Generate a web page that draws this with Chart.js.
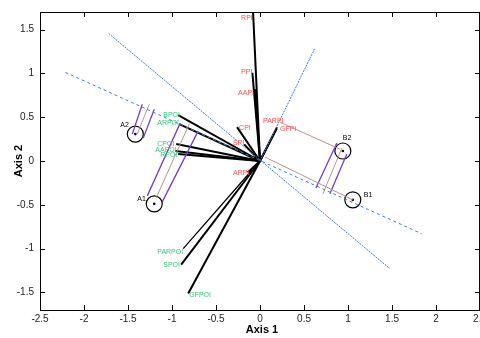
<!DOCTYPE html>
<html><head><meta charset="utf-8">
<script src="https://cdn.jsdelivr.net/npm/chart.js@4.4.1/dist/chart.umd.min.js"></script>
<style>html,body{margin:0;padding:0;overflow:hidden;background:#fff}#wrap{position:relative;width:490px;height:338px}</style>
</head><body><div id="wrap"><canvas id="c"></canvas></div>
<script>
// Variable vectors (PI = red, POI = green): end points from origin
const piNames = ['RPI','PPI','AAPI','CPI','SPI','ARPI','PARPI','GFPI'];
const piX = [-0.079,-0.087,-0.057,-0.261,-0.18,-0.14,0.193,0.19];
const piY = [1.693,1.007,0.818,0.386,0.19,-0.13,0.386,0.37];
const piLabelX = [-0.215,-0.215,-0.249,-0.238,-0.306,-0.306,0.034,0.227];
const piLabelY = [1.636,1.011,0.773,0.375,0.205,-0.136,0.455,0.364];

const poiNames = ['BPOI','ARPOI','CPOI','AAPOI','RPOI','PARPOI','SPOI','GFPOI'];
const poiX = [-0.93,-0.918,-0.952,-0.964,-0.93,-0.873,-0.896,-0.816];
const poiY = [0.523,0.42,0.193,0.114,0.08,-1.0,-1.182,-1.511];
const poiLabelX = [-1.10,-1.168,-1.168,-1.190,-1.134,-1.168,-1.10,-0.805];
const poiLabelY = [0.523,0.432,0.193,0.125,0.068,-1.034,-1.182,-1.534];

// Objects
const objNames = ['A1','A2','B1','B2'];
const objX = [-1.202,-1.417,1.054,0.941];
const objY = [-0.489,0.307,-0.443,0.114];
const objLabelX = [-1.395,-1.587,1.179,0.941];
const objLabelY = [-0.432,0.409,-0.386,0.261];

// Segments [x1,y1,x2,y2]
const blueDotted = [[-1.72,1.455,1.474,-1.227],[0,0,0.62,1.28]];
const blueDashed = [[-2.211,1.011,1.837,-0.830]];
const purpleSegs = [
  [-1.451,0.307,-1.338,0.648],[-1.327,0.261,-1.202,0.591],
  [-1.281,-0.398,-0.907,0.432],[-1.111,-0.466,-0.703,0.341],
  [0.873,0.205,0.635,-0.307],[0.986,0.080,0.794,-0.375]
];
const brownSegs = [
  [-1.395,0.307,-1.259,0.648],[-1.179,-0.420,-0.805,0.420],
  [0.930,0.148,0.714,-0.375],[0.227,0.443,0.907,0.136],
  [0.057,0.045,1.054,-0.443]
];

const FONT = '"Liberation Sans", Arial, Helvetica, sans-serif';
const BLUE = '#3f7fcc', PURPLE = '#7a3cc8', BROWN = '#b8948c';
const RED = '#ff4d4d', GREEN = '#3cc47c';

const datasets = [];
function seg(s, color, width, dash){
  datasets.push({data:[{x:s[0],y:s[1]},{x:s[2],y:s[3]}], showLine:true, borderColor:color,
    borderWidth:width, borderDash:dash||[], pointRadius:0, fill:false});
}
blueDotted.forEach(s=>seg(s,BLUE,1,[2,1]));
blueDashed.forEach(s=>seg(s,BLUE,1,[3,3]));
brownSegs.forEach(s=>seg(s,BROWN,1));
purpleSegs.forEach(s=>seg(s,PURPLE,1.3));
piX.forEach((x,i)=>seg([0,0,x,piY[i]],'#000',2));
poiX.forEach((x,i)=>seg([0,0,x,poiY[i]],'#000',poiNames[i]==='PARPOI'?1.3:2));
datasets.push({data:objX.map((x,i)=>({x,y:objY[i]})), pointRadius:8, pointBorderWidth:1.2,
  pointBorderColor:'#000', pointBackgroundColor:'rgba(0,0,0,0)', showLine:false});
datasets.push({data:objX.map((x,i)=>({x,y:objY[i]})), pointRadius:1.3, pointBorderWidth:0,
  pointBackgroundColor:'#000', showLine:false});

const decor = {
  id:'decor',
  afterDraw(chart){
    const {ctx, chartArea:{left,right,top,bottom}, scales:{x,y}} = chart;
    ctx.save();
    ctx.strokeStyle='#000'; ctx.lineWidth=1;
    ctx.strokeRect(left+0.5, top+0.5, right-left-1, bottom-top);
    ctx.beginPath();
    x.ticks.forEach(t=>{const px=Math.round(x.getPixelForValue(t.value))+0.5;
      ctx.moveTo(px,bottom); ctx.lineTo(px,bottom-5); ctx.moveTo(px,top); ctx.lineTo(px,top+5);});
    y.ticks.forEach(t=>{const py=Math.round(y.getPixelForValue(t.value))+0.5;
      ctx.moveTo(left,py); ctx.lineTo(left+5,py); ctx.moveTo(right,py); ctx.lineTo(right-5,py);});
    ctx.stroke();
    // labels
    ctx.font = '7px '+FONT; ctx.textBaseline='middle'; ctx.textAlign='left';
    ctx.fillStyle = RED;
    piNames.forEach((n,i)=>ctx.fillText(n, x.getPixelForValue(piLabelX[i]), y.getPixelForValue(piLabelY[i])));
    ctx.fillStyle = GREEN;
    poiNames.forEach((n,i)=>ctx.fillText(n, x.getPixelForValue(poiLabelX[i]), y.getPixelForValue(poiLabelY[i])));
    ctx.fillStyle = '#000';
    objNames.forEach((n,i)=>ctx.fillText(n, x.getPixelForValue(objLabelX[i]), y.getPixelForValue(objLabelY[i])));
    // axis titles
    ctx.font = 'bold 11px '+FONT; ctx.textAlign='center';
    ctx.fillText('Axis 1', 262, 330);
    ctx.translate(19, (top+bottom)/2); ctx.rotate(-Math.PI/2);
    ctx.fillText('Axis 2', 0, 0);
    ctx.restore();
  }
};

const fmt = v => String(Number(v.toFixed(2)));
new Chart(document.getElementById('c'), {
  type:'scatter',
  data:{datasets},
  options:{
    responsive:true, maintainAspectRatio:false, animation:false,
    layout:{padding:{top:10,right:9,left:0,bottom:0}},
    plugins:{legend:{display:false}, tooltip:{enabled:false}},
    scales:{
      x:{type:'linear', min:-2.5, max:2.5,
        ticks:{stepSize:0.5, includeBounds:false, callback:fmt, color:'#222', padding:3, font:{family:FONT,size:10}},
        grid:{display:false, drawTicks:false}, border:{display:false},
        afterFit(s){s.height=28;}},
      y:{type:'linear', min:-1.7, max:1.7,
        ticks:{stepSize:0.5, includeBounds:false, callback:fmt, color:'#222', padding:6, font:{family:FONT,size:10}},
        grid:{display:false, drawTicks:false}, border:{display:false},
        afterFit(s){s.width=40;}}
    }
  },
  plugins:[decor]
});
</script></body></html>
